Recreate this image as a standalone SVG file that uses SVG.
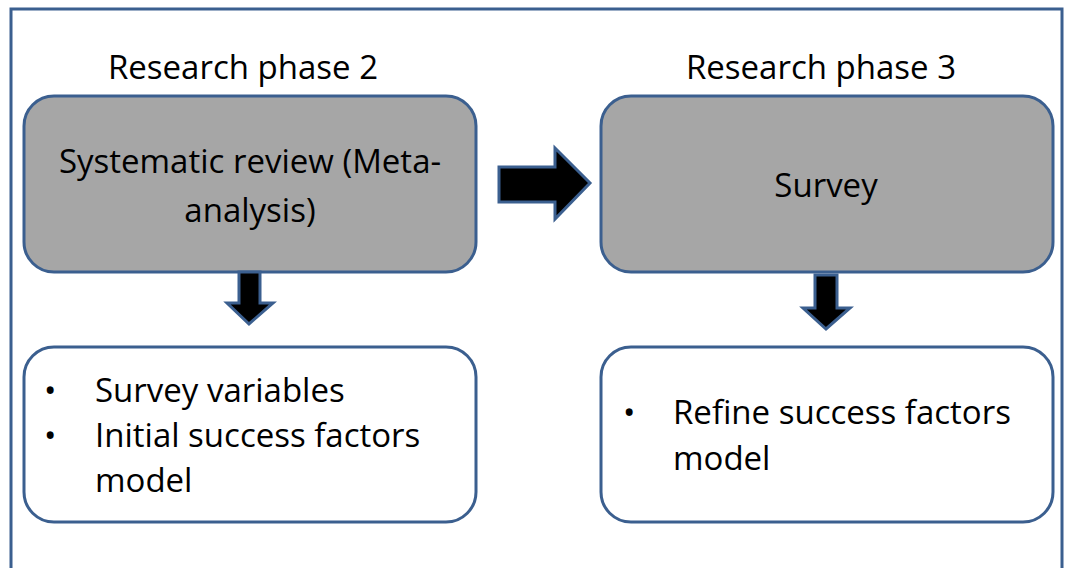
<svg xmlns="http://www.w3.org/2000/svg" width="1065" height="568" viewBox="0 0 1065 568">
  <style>
    .frame { fill: #ffffff; stroke: #3b5f8f; stroke-width: 3; }
    .box { stroke: #3b5f8f; stroke-width: 3; }
    .grey { fill: #a6a6a6; }
    .white { fill: #ffffff; }
    .arrow { fill: #000000; stroke: #3b5f8f; stroke-width: 3; stroke-linejoin: miter; }
    text { font-family: "Open Sans", "Liberation Sans", sans-serif; font-size: 33px; fill: #000000; }
    .mid { text-anchor: middle; }
  </style>
  <rect x="0" y="0" width="1065" height="568" fill="#ffffff"/>
  <rect class="frame" x="11" y="9" width="1051" height="580"/>

  <g id="phase2-label">
    <text class="mid" x="243" y="79">Research phase 2</text>
  </g>
  <g id="phase3-label">
    <text class="mid" x="821" y="79">Research phase 3</text>
  </g>

  <g id="systematic-review">
    <rect class="box grey" x="24" y="96" width="452" height="176" rx="30" ry="30"/>
    <text class="mid" x="250" y="173">Systematic review (Meta-</text>
    <text class="mid" x="250" y="222">analysis)</text>
  </g>

  <g id="survey">
    <rect class="box grey" x="601" y="96" width="452" height="176" rx="30" ry="30"/>
    <text class="mid" x="826" y="197">Survey</text>
  </g>

  <g id="phase2-outputs">
    <rect class="box white" x="24" y="347" width="452" height="175" rx="30" ry="30"/>
    <text x="44" y="402">•</text>
    <text x="95" y="402">Survey variables</text>
    <text x="44" y="447">•</text>
    <text x="95" y="447">Initial success factors</text>
    <text x="95" y="492">model</text>
  </g>

  <g id="phase3-outputs">
    <rect class="box white" x="601" y="347" width="452" height="175" rx="30" ry="30"/>
    <text x="623" y="424">•</text>
    <text x="673" y="424">Refine success factors</text>
    <text x="673" y="470">model</text>
  </g>

  <g id="connectors">
    <polygon class="arrow" points="499,167 555,167 555,148 590,183 555,219 555,202 499,202"/>
    <polygon class="arrow" points="239,272 260,272 260,303 273,303 249,324 227,303 239,303"/>
    <polygon class="arrow" points="815,275 837,275 837,308 850,308 826,329 803,308 815,308"/>
  </g>
</svg>
